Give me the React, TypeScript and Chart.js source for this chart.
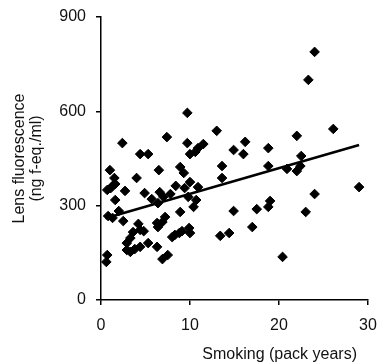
import React, { useEffect, useRef } from "react";
import { Chart, registerables } from "chart.js";

Chart.register(...registerables);

// Smoking (pack years)
const smokingX = [
  24.0, 23.3, 9.7, 2.4, 4.4, 5.3, 7.4, 9.7, 10.0, 10.6,
  10.9, 11.5, 13.0, 14.9, 26.1, 22.0, 18.8, 16.2, 16.0, 22.5,
  13.6, 13.6, 18.8, 20.9, 22.0, 22.4, 29.0, 24.0, 23.0, 14.9,
  17.5, 19.0, 18.8, 17.0, 14.4, 13.4, 20.4, 1.0, 1.5, 1.6,
  0.7, 1.1, 2.7, 1.6, 4.0, 6.5, 8.9, 9.3, 10.0, 8.4,
  7.8, 6.6, 4.9, 5.7, 6.4, 9.8, 10.7, 10.9, 10.4, 8.9,
  2.0, 1.3, 2.5, 4.2, 4.4, 4.8, 3.6, 3.3, 2.9, 2.9,
  3.3, 3.8, 4.4, 5.3, 6.4, 6.3, 6.9, 7.2, 6.3, 8.0,
  8.3, 8.8, 9.1, 9.9, 10.0, 6.9, 7.5, 0.7, 0.6, 0.8,
  9.4, 7.0, 1.3,
];

// Lens fluorescence (ng f-eq./ml)
const fluorescenceY = [
  789, 700, 595, 499, 464, 464, 518, 499, 464, 471,
  483, 496, 538, 477, 544, 522, 483, 503, 464, 458,
  426, 388, 426, 417, 410, 426, 359, 337, 280, 283,
  289, 315, 296, 232, 213, 204, 137, 413, 388, 369,
  350, 356, 347, 318, 388, 413, 423, 404, 375, 363,
  337, 343, 340, 321, 308, 328, 318, 359, 296, 280,
  283, 261, 251, 242, 223, 219, 216, 197, 181, 159,
  153, 162, 169, 181, 232, 245, 248, 264, 169, 200,
  207, 213, 219, 229, 213, 130, 143, 143, 121, 267,
  356, 328, 363,
];

// Regression line endpoints
const trendX = [0.5, 29];
const trendY = [260, 493];

const xTicks = [0, 10, 20, 30];
const yTicks = [0, 300, 600, 900];

const xTitle = "Smoking (pack years)";
const yTitle = ["Lens fluorescence", "(ng f-eq./ml)"];

const FONT = "'Liberation Sans', Arial, Helvetica, sans-serif";

export default function App() {
  const ref = useRef<HTMLCanvasElement | null>(null);

  useEffect(() => {
    if (!ref.current) return;
    const points = smokingX.map((x, i) => ({ x, y: fluorescenceY[i] }));
    const trend = trendX.map((x, i) => ({ x, y: trendY[i] }));

    const xTitlePlugin = {
      id: "xTitlePlugin",
      afterDraw(chart: any) {
        const { ctx, chartArea } = chart;
        ctx.save();
        ctx.font = `16px ${FONT}`;
        ctx.fillStyle = "#111";
        ctx.textAlign = "right";
        ctx.textBaseline = "alphabetic";
        ctx.fillText(xTitle, chartArea.right - 11, 359);
        ctx.restore();
      },
    };

    const chart = new Chart(ref.current, {
      type: "scatter",
      data: {
        datasets: [
          {
            label: "trend",
            data: trend,
            showLine: true,
            borderColor: "#000",
            borderWidth: 2.5,
            pointRadius: 0,
            fill: false,
            order: 0,
          } as any,
          {
            label: "points",
            data: points,
            pointStyle: "rectRot",
            pointRadius: 4.8,
            pointBackgroundColor: "#000",
            pointBorderColor: "#000",
            pointBorderWidth: 1,
            order: 1,
          } as any,
        ],
      },
      options: {
        responsive: false,
        animation: false,
        layout: { padding: { top: 17, right: 11, left: 0, bottom: 0 } },
        plugins: {
          legend: { display: false },
          tooltip: { enabled: false },
        },
        scales: {
          x: {
            type: "linear",
            min: 0,
            max: 30,
            afterFit: (s: any) => {
              s.height = 63;
              s.paddingLeft = 0;
              s.paddingRight = 0;
            },
            afterBuildTicks: (s: any) => {
              s.ticks = xTicks.map((v) => ({ value: v }));
            },
            ticks: {
              color: "#111",
              padding: 11,
              font: { family: FONT, size: 16 },
              maxRotation: 0,
            },
            grid: {
              drawOnChartArea: false,
              drawTicks: true,
              tickLength: 5,
              color: "#000",
              lineWidth: 1.5,
            },
            border: { display: true, color: "#000", width: 1.5 },
          },
          y: {
            type: "linear",
            min: 0,
            max: 900,
            afterFit: (s: any) => {
              s.width = 101;
              s.paddingTop = 0;
              s.paddingBottom = 0;
            },
            afterBuildTicks: (s: any) => {
              s.ticks = yTicks.map((v) => ({ value: v }));
            },
            ticks: {
              color: "#111",
              padding: 10,
              font: { family: FONT, size: 16 },
            },
            grid: {
              drawOnChartArea: false,
              drawTicks: true,
              tickLength: 5,
              color: "#000",
              lineWidth: 1.5,
            },
            border: { display: true, color: "#000", width: 1.5 },
            title: {
              display: true,
              text: yTitle,
              color: "#111",
              font: { family: FONT, size: 16, lineHeight: 1.06 },
              padding: { top: 11, bottom: 0 },
            },
          },
        },
      },
      plugins: [xTitlePlugin],
    });
    return () => chart.destroy();
  }, []);

  return (
    <div style={{ position: "absolute", left: 0, top: 0, width: 379, height: 363 }}>
      <canvas ref={ref} width={379} height={363} style={{ display: "block" }} />
    </div>
  );
}
